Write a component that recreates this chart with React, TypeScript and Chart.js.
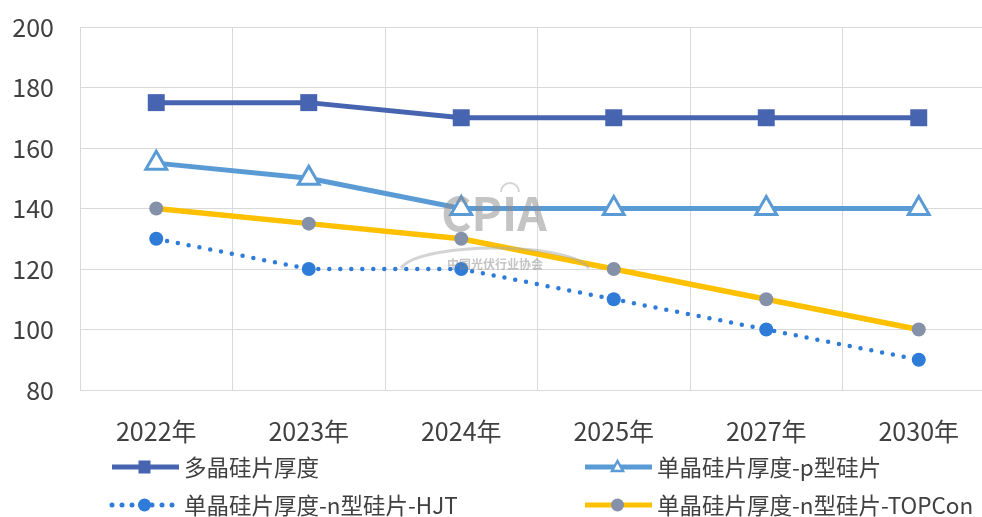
import React, { useEffect, useRef } from "react";
import { Chart, registerables } from "chart.js";

Chart.register(...registerables);

const categories = ["2022年", "2023年", "2024年", "2025年", "2027年", "2030年"];
const polySeries = [175, 175, 170, 170, 170, 170];
const monoPSeries = [155, 150, 140, 140, 140, 140];
const monoHJTSeries = [130, 120, 120, 110, 100, 90];
const monoTOPConSeries = [140, 135, 130, 120, 110, 100];
const seriesLabels = [
  "多晶硅片厚度",
  "单晶硅片厚度-p型硅片",
  "单晶硅片厚度-n型硅片-HJT",
  "单晶硅片厚度-n型硅片-TOPCon",
];
const yMin = 80;
const yMax = 200;
const yStep = 20;

const FONT = "'Noto Sans CJK SC', 'Noto Sans', sans-serif";
const TEXT = "#404040";
const DARK_BLUE = "#4764b0";
const LIGHT_BLUE = "#5b9bd5";
const HJT_BLUE = "#2e7bd8";
const YELLOW = "#ffc000";
const GRAY_MARK = "#8590a9";

const watermarkPlugin = {
  id: "watermark",
  afterDatasetsDraw(chart: any) {
    const ctx = chart.ctx;
    ctx.save();
    ctx.globalAlpha = 0.5;
    ctx.strokeStyle = "#aaaaaa";
    ctx.lineWidth = 3;
    ctx.beginPath();
    ctx.ellipse(495, 272, 95, 24, 0, Math.PI * 1.05, Math.PI * 1.95);
    ctx.stroke();
    ctx.lineWidth = 2;
    ctx.beginPath();
    ctx.arc(510, 192, 9, Math.PI, Math.PI * 2);
    ctx.stroke();
    ctx.fillStyle = "#8a8a8a";
    ctx.font = `bold 46px ${FONT}`;
    ctx.textAlign = "center";
    ctx.textBaseline = "middle";
    ctx.fillText("CPIA", 494, 214);
    ctx.font = `bold 12px ${FONT}`;
    ctx.fillText("中国光伏行业协会", 495, 264);
    ctx.restore();
  },
};

const legendPlugin = {
  id: "customLegend",
  afterDraw(chart: any) {
    const ctx = chart.ctx;
    const slots = [
      { x: 110, y: 467 },
      { x: 583, y: 467 },
      { x: 110, y: 505 },
      { x: 583, y: 505 },
    ];
    chart.data.datasets.forEach((ds: any, i: number) => {
      const s = slots[i];
      const x0 = s.x;
      const x1 = s.x + 69;
      const cx = (x0 + x1) / 2;
      const y = s.y;
      ctx.save();
      ctx.strokeStyle = ds.borderColor;
      ctx.lineWidth = 5;
      ctx.lineCap = ds.borderDash && ds.borderDash.length ? "round" : "butt";
      ctx.setLineDash(ds.borderDash && ds.borderDash.length ? [0, 10] : []);
      ctx.beginPath();
      ctx.moveTo(x0 + 2, y);
      ctx.lineTo(x1, y);
      ctx.stroke();
      ctx.setLineDash([]);
      const style = ds.pointStyle;
      ctx.fillStyle = ds.pointBackgroundColor;
      ctx.strokeStyle = ds.pointBorderColor;
      if (style === "rect") {
        ctx.fillRect(cx - 6, y - 6.5, 12, 13);
      } else if (style === "triangle") {
        ctx.lineWidth = 2.5;
        ctx.beginPath();
        ctx.moveTo(cx, y - 6);
        ctx.lineTo(cx + 5.5, y + 4);
        ctx.lineTo(cx - 5.5, y + 4);
        ctx.closePath();
        ctx.fill();
        ctx.stroke();
      } else {
        ctx.beginPath();
        ctx.arc(cx, y, 6.5, 0, Math.PI * 2);
        ctx.fill();
      }
      ctx.fillStyle = TEXT;
      ctx.font = `22.5px ${FONT}`;
      ctx.textAlign = "left";
      ctx.textBaseline = "middle";
      ctx.fillText(ds.label, x1 + 5, y);
      ctx.restore();
    });
  },
};

export default function App() {
  const canvasRef = useRef<HTMLCanvasElement | null>(null);

  useEffect(() => {
    if (!canvasRef.current) return;
    const chart = new Chart(canvasRef.current, {
      type: "line",
      data: {
        labels: categories,
        datasets: [
          {
            label: seriesLabels[0],
            data: polySeries,
            borderColor: DARK_BLUE,
            backgroundColor: DARK_BLUE,
            borderWidth: 5,
            pointStyle: "rect",
            pointRadius: 12,
            pointBackgroundColor: DARK_BLUE,
            pointBorderColor: DARK_BLUE,
            pointBorderWidth: 0,
            tension: 0,
          },
          {
            label: seriesLabels[1],
            data: monoPSeries,
            borderColor: LIGHT_BLUE,
            backgroundColor: LIGHT_BLUE,
            borderWidth: 5,
            pointStyle: "triangle",
            pointRadius: 12,
            pointBackgroundColor: "#ffffff",
            pointBorderColor: LIGHT_BLUE,
            pointBorderWidth: 3,
            tension: 0,
          },
          {
            label: seriesLabels[2],
            data: monoHJTSeries,
            borderColor: HJT_BLUE,
            backgroundColor: HJT_BLUE,
            borderWidth: 4.5,
            borderDash: [0, 11],
            borderCapStyle: "round",
            pointStyle: "circle",
            pointRadius: 7,
            pointBackgroundColor: HJT_BLUE,
            pointBorderColor: HJT_BLUE,
            pointBorderWidth: 0,
            tension: 0,
          },
          {
            label: seriesLabels[3],
            data: monoTOPConSeries,
            borderColor: YELLOW,
            backgroundColor: YELLOW,
            borderWidth: 5.5,
            pointStyle: "circle",
            pointRadius: 7,
            pointBackgroundColor: GRAY_MARK,
            pointBorderColor: GRAY_MARK,
            pointBorderWidth: 0,
            tension: 0,
          },
        ],
      },
      options: {
        animation: false,
        responsive: false,
        maintainAspectRatio: false,
        layout: { padding: { top: 27, right: 5, left: 0, bottom: 0 } },
        plugins: {
          legend: { display: false },
          tooltip: { enabled: false },
        },
        scales: {
          x: {
            offset: true,
            grid: { offset: true, color: "#d9d9d9", lineWidth: 1, drawTicks: false },
            border: { color: "#d9d9d9" },
            ticks: {
              color: TEXT,
              font: { family: FONT, size: 25 },
              padding: 26,
              maxRotation: 0,
            },
            afterFit(scale: any) {
              scale.height = 127;
              scale.paddingLeft = 0;
              scale.paddingRight = 0;
            },
          },
          y: {
            min: yMin,
            max: yMax,
            grid: { color: "#d9d9d9", lineWidth: 1, drawTicks: false },
            border: { color: "#d9d9d9" },
            ticks: {
              stepSize: yStep,
              color: TEXT,
              font: { family: FONT, size: 25 },
              padding: 26,
            },
            afterFit(scale: any) {
              scale.width = 80;
              scale.paddingTop = 0;
              scale.paddingBottom = 0;
            },
          },
        },
      },
      plugins: [watermarkPlugin, legendPlugin],
    } as any);
    return () => chart.destroy();
  }, []);

  return (
    <div
      style={{
        position: "fixed",
        left: 0,
        top: 0,
        width: 982,
        height: 517,
        overflow: "hidden",
        background: "#ffffff",
      }}
    >
      <canvas
        ref={canvasRef}
        width={1010}
        height={517}
        style={{ width: 1010, height: 517, display: "block" }}
      />
    </div>
  );
}
